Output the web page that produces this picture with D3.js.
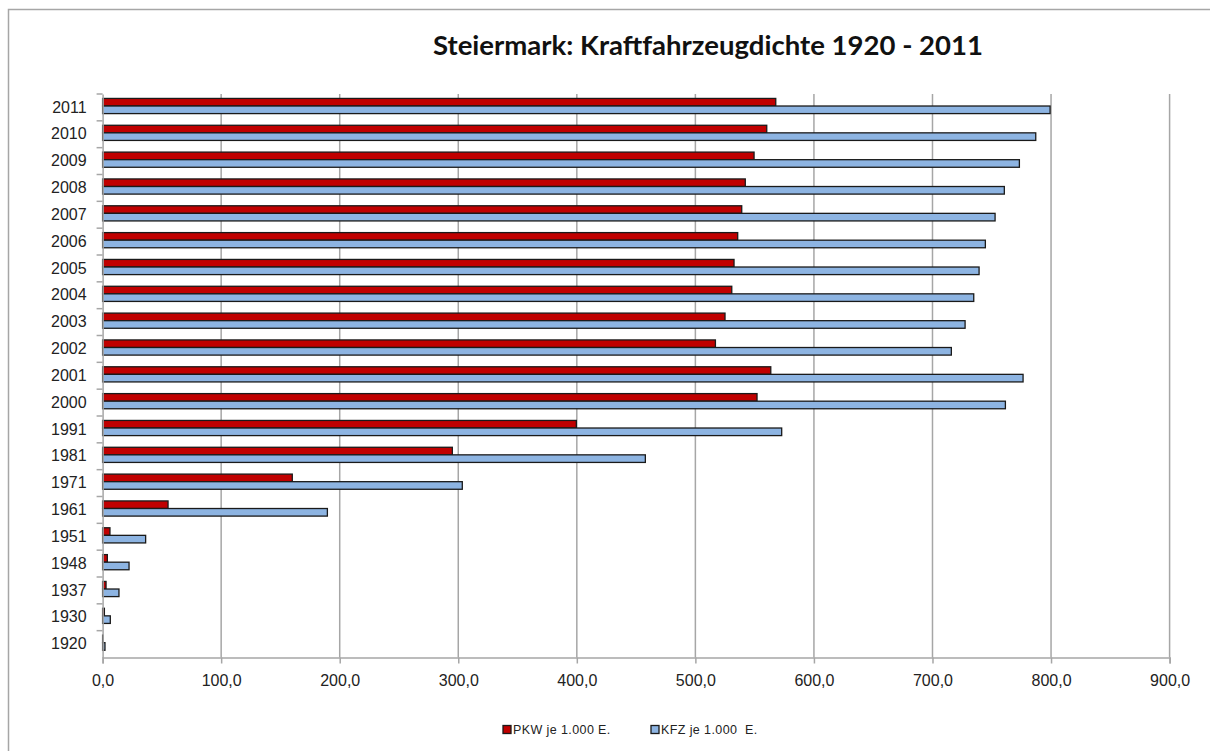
<!DOCTYPE html>
<html>
<head>
<meta charset="utf-8">
<script src="https://cdn.jsdelivr.net/npm/d3@7"></script>
<style>
  body { margin: 0; background: #fff; }
  svg { display: block; }
  .tick text { font-family: "Liberation Sans", Arial, sans-serif; font-size: 16px; fill: #222; }
</style>
</head>
<body>
<div class="chart"></div>
<script>
// data
var years = ["2011", "2010", "2009", "2008", "2007", "2006", "2005", "2004", "2003", "2002",
             "2001", "2000", "1991", "1981", "1971", "1961", "1951", "1948", "1937", "1930", "1920"];
var pkw = [567.8, 560.2, 549.5, 542.1, 539.1, 535.7, 532.6, 530.7, 525.0, 516.9,
           563.6, 552.0, 399.6, 295.0, 160.0, 55.2, 6.2, 4.0, 2.9, 1.5, 0.3];
var kfz = [799.2, 787.1, 773.3, 760.6, 752.8, 744.6, 739.3, 734.8, 727.5, 715.9,
           776.4, 761.5, 572.8, 457.8, 303.4, 189.6, 36.3, 22.3, 13.8, 6.5, 2.0];
var series = ["PKW je 1.000 E.", "KFZ je 1.000  E."];
var xTicks = [0, 100, 200, 300, 400, 500, 600, 700, 800, 900];

var colors = ["#C00000", "#8DB4E2"];

var W = 1210, H = 751;
var plot = {left: 102.6, right: 1169.6, top: 94, bottom: 657.5};

var svg = d3.select(".chart").append("svg")
    .attr("width", W)
    .attr("height", H);

// chart area frame
svg.append("rect")
    .attr("x", 8.5).attr("y", 9.5)
    .attr("width", W + 20).attr("height", H + 20)
    .attr("fill", "none")
    .attr("stroke", "#a6a6a6")
    .attr("stroke-width", 1.5);

var x = d3.scaleLinear().domain([0, 900]).range([plot.left, plot.right]);
var y = d3.scaleBand().domain(years).range([plot.top, plot.bottom]).padding(0);
var ySub = d3.scaleBand().domain([0, 1]).range([0, y.bandwidth()])
    .paddingInner(0).paddingOuter(0.77).align(0.38);

var de = d3.formatLocale({decimal: ",", thousands: ".", grouping: [3], currency: ["", " €"]});

// vertical gridlines
svg.append("g")
    .selectAll("line")
    .data(xTicks.slice(1))
    .enter().append("line")
    .attr("x1", function(d) { return x(d); })
    .attr("x2", function(d) { return x(d); })
    .attr("y1", plot.top)
    .attr("y2", plot.bottom)
    .attr("stroke", "#a6a6a6")
    .attr("stroke-width", 1.5);

// bars
var rows = years.map(function(yr, i) { return {year: yr, vals: [pkw[i], kfz[i]]}; });

var groups = svg.append("g").selectAll("g")
    .data(rows)
    .enter().append("g")
    .attr("transform", function(d) { return "translate(0," + y(d.year) + ")"; });

groups.selectAll("rect")
    .data(function(d) { return d.vals.map(function(v, j) { return {v: v, j: j}; }); })
    .enter().append("rect")
    .attr("x", x(0))
    .attr("y", function(d) { return ySub(d.j); })
    .attr("width", function(d) { return x(d.v) - x(0); })
    .attr("height", ySub.bandwidth())
    .attr("fill", function(d) { return colors[d.j]; })
    .attr("stroke", "#1a1a1a")
    .attr("stroke-width", 1.3);

// X axis
var xAxis = svg.append("g")
    .attr("transform", "translate(0," + plot.bottom + ")")
    .call(d3.axisBottom(x).tickValues(xTicks).tickSize(6).tickPadding(11).tickFormat(de.format(".1f")));
xAxis.select(".domain").attr("stroke", "#a6a6a6").attr("stroke-width", 1.5);
xAxis.selectAll(".tick line").attr("stroke", "#a6a6a6").attr("stroke-width", 1.5);

// Y axis
var yAxis = svg.append("g")
    .attr("transform", "translate(" + plot.left + ",0)")
    .call(d3.axisLeft(y).tickSize(0).tickPadding(16));
yAxis.select(".domain").attr("stroke", "#a6a6a6").attr("stroke-width", 1.5);

// band separator ticks on the category axis
svg.append("g")
    .selectAll("line")
    .data(years)
    .enter().append("line")
    .attr("x1", plot.left - 6)
    .attr("x2", plot.left)
    .attr("y1", function(d) { return y(d); })
    .attr("y2", function(d) { return y(d); })
    .attr("stroke", "#a6a6a6")
    .attr("stroke-width", 1.5);

// title
svg.append("text")
    .attr("x", 708)
    .attr("y", 55)
    .attr("text-anchor", "middle")
    .attr("textLength", 550)
    .attr("lengthAdjust", "spacingAndGlyphs")
    .style("font-family", "Lato, 'Open Sans', sans-serif")
    .style("font-weight", "bold")
    .style("font-size", "27px")
    .style("fill", "#111")
    .text("Steiermark: Kraftfahrzeugdichte 1920 - 2011");

// legend
var legendX = [503, 651];
var legend = svg.append("g").selectAll("g")
    .data(series)
    .enter().append("g")
    .attr("transform", function(d, i) { return "translate(" + legendX[i] + ",725.5)"; });

legend.append("rect")
    .attr("width", 8)
    .attr("height", 8)
    .attr("fill", function(d, i) { return colors[i]; })
    .attr("stroke", "#1a1a1a")
    .attr("stroke-width", 1.3);

legend.append("text")
    .attr("x", 10)
    .attr("y", 8.5)
    .style("font-family", "'Liberation Sans', Arial, sans-serif")
    .style("font-size", "12.5px")
    .style("letter-spacing", "0.4px")
    .style("white-space", "pre")
    .style("fill", "#222")
    .text(function(d) { return d; });
</script>
</body>
</html>
